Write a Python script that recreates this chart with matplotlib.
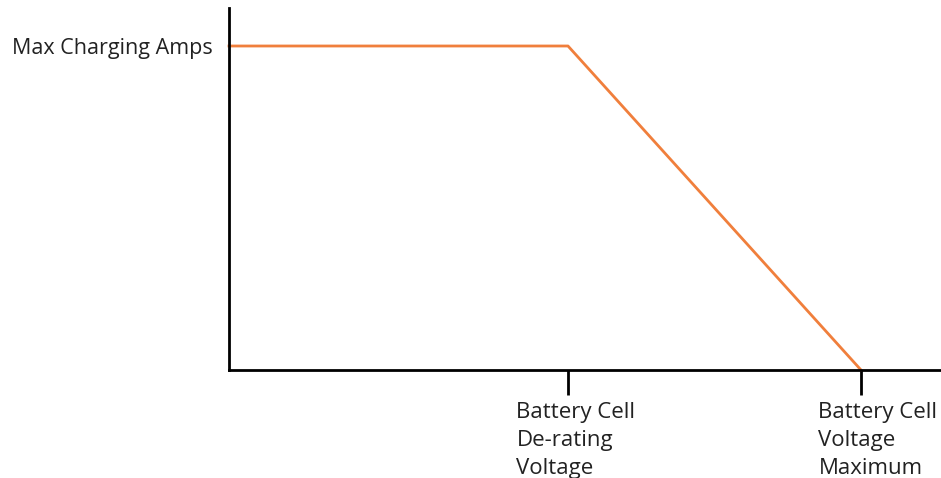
import matplotlib.pyplot as plt
import matplotlib.transforms as mtransforms

# Charging current vs cell voltage (schematic, unitless)
voltage = [0.0, 3.39, 6.32]
amps = [1.0, 1.0, 0.0]

x_ticks = [3.39, 6.32]
x_labels = ['Battery Cell\nDe-rating\nVoltage', 'Battery Cell\nVoltage\nMaximum']
y_ticks = [1.0]
y_labels = ['Max Charging Amps']

plt.rcParams['font.family'] = ['Open Sans', 'DejaVu Sans']

fig = plt.figure(figsize=(9.41, 4.78), dpi=100)
ax = fig.add_axes([229 / 941, 108 / 478, 712 / 941, 362 / 478])

ax.plot(voltage, amps, color='#F07F3C', linewidth=2, clip_on=False)

ax.set_xlim(0, 7.12)
ax.set_ylim(0, 362 / 324)

for side in ['top', 'right']:
    ax.spines[side].set_visible(False)
for side in ['left', 'bottom']:
    ax.spines[side].set_linewidth(2)
    ax.spines[side].set_color('black')

ax.set_xticks(x_ticks)
ax.set_xticklabels(x_labels, fontsize=16, ha='center', multialignment='left',
                   linespacing=1.45, color='#222222')
ax.tick_params(axis='x', length=18, width=2, pad=5)
# nudge labels to the right, as in the original
for lbl, dx in zip(ax.get_xticklabels(), [8, 17]):
    shift = mtransforms.ScaledTranslation(dx / 100, 0, fig.dpi_scale_trans)
    lbl.set_transform(lbl.get_transform() + shift)

ax.set_yticks(y_ticks)
ax.set_yticklabels(y_labels, fontsize=15.5, color='#222222')
ax.tick_params(axis='y', length=0, pad=12)

fig.savefig('out.png', dpi=100)
